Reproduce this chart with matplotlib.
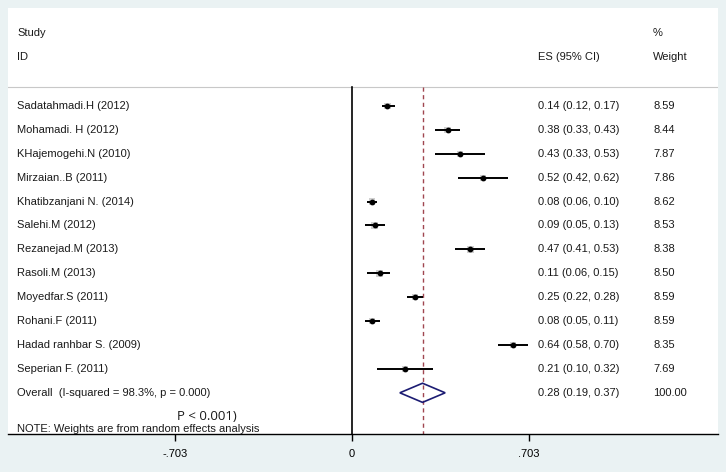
import numpy as np
import matplotlib
matplotlib.use("Agg")
import matplotlib.pyplot as plt

studies = ["Sadatahmadi.H (2012)", "Mohamadi. H (2012)", "KHajemogehi.N (2010)",
           "Mirzaian..B (2011)", "Khatibzanjani N. (2014)", "Salehi.M (2012)",
           "Rezanejad.M (2013)", "Rasoli.M (2013)", "Moyedfar.S (2011)",
           "Rohani.F (2011)", "Hadad ranhbar S. (2009)", "Seperian F. (2011)"]
es = [0.14, 0.38, 0.43, 0.52, 0.08, 0.09, 0.47, 0.11, 0.25, 0.08, 0.64, 0.21]
lo = [0.12, 0.33, 0.33, 0.42, 0.06, 0.05, 0.41, 0.06, 0.22, 0.05, 0.58, 0.10]
hi = [0.17, 0.43, 0.53, 0.62, 0.10, 0.13, 0.53, 0.15, 0.28, 0.11, 0.70, 0.32]
weights = [8.59, 8.44, 7.87, 7.86, 8.62, 8.53, 8.38, 8.50, 8.59, 8.59, 8.35, 7.69]

overall_es, overall_lo, overall_hi = 0.28, 0.19, 0.37
overall_label = "Overall  (I-squared = 98.3%, p = 0.000)"
xticks = [-0.703, 0, 0.703]
xticklabels = ["-.703", "0", ".703"]

bg = "#EAF2F3"
fig = plt.figure(figsize=(7.26, 4.72), dpi=100, facecolor=bg)
W, H = 726, 472
# white plot panel in pixels: x 8..718, y 8..434
ax = fig.add_axes([8 / W, (H - 434) / H, 710 / W, 426 / H])
ax.set_facecolor("white")

# x: 0 at pixel 352, 251.8 px per unit
ppu = 251.8
ax.set_xlim((8 - 352) / ppu, (718 - 352) / ppu)
# y: row 0 at pixel 106, 23.9 px per row
r0, rs = 106, 23.9
ax.set_ylim((434 - r0) / rs, (8 - r0) / rs)

plt.rcParams["font.family"] = "Liberation Sans"
fs = 8
tc = "#1a1a1a"
n = len(studies)
rows = np.arange(n)
head_y = (87 - r0) / rs

for s in ["top", "right", "left"]:
    ax.spines[s].set_visible(False)
ax.spines["bottom"].set_linewidth(1.0)
ax.set_yticks([])
ax.set_xticks(xticks)
ax.set_xticklabels(xticklabels, fontsize=fs, family="Liberation Sans")
ax.tick_params(axis="x", direction="out", length=5, width=1, pad=6)

# header separator
ax.axhline(head_y, color="#C8C8C8", lw=0.8)
# null line and overall line
ax.plot([0, 0], [head_y, ax.get_ylim()[0]], color="black", lw=1.2)
ax.plot([overall_es, overall_es], [head_y, ax.get_ylim()[0]], color="#A04650",
        lw=1.0, ls=(0, (3, 2.5)))

# study estimates
sizes = [(w / 8.6) ** 2 * 22 for w in weights]
ax.scatter(es, rows, s=sizes, marker="s", color="#D0D0D0", zorder=3, lw=0)
ax.hlines(rows, lo, hi, color="black", lw=1.4, zorder=4)
ax.scatter(es, rows, s=10, marker="o", color="black", zorder=5)

# diamond
ov = n
ax.fill([overall_lo, overall_es, overall_hi, overall_es],
        [ov, ov - 0.4, ov, ov + 0.4], facecolor="none", edgecolor="#1C1C73",
        lw=1.2, zorder=4)

trans = ax.get_yaxis_transform()
xs, xe, xw = (17 - 8) / 710, (538 - 8) / 710, (653 - 8) / 710
kw = dict(transform=trans, fontsize=fs, va="center", color=tc)
ax.text(xs, (33 - r0) / rs, "Study", **kw)
ax.text(xs, (57 - r0) / rs, "ID", **kw)
ax.text(xe, (57 - r0) / rs, "ES (95% CI)", **kw)
ax.text(xw, (33 - r0) / rs, "%", **kw)
ax.text(xw, (57 - r0) / rs, "Weight", **kw)

for i in range(n):
    ax.text(xs, i, studies[i], **kw)
    ax.text(xe, i, "%.2f (%.2f, %.2f)" % (es[i], lo[i], hi[i]), **kw)
    ax.text(xw, i, "%.2f" % weights[i], **kw)

ax.text(xs, ov, overall_label, **kw)
ax.text(xe, ov, "%.2f (%.2f, %.2f)" % (overall_es, overall_lo, overall_hi), **kw)
ax.text(xw, ov, "100.00", **kw)

ax.text((207 - 8) / 710, (417 - r0) / rs, "P < 0.001)", transform=trans,
        fontsize=9.5, va="center", ha="center", family="Open Sans", color=tc)
ax.text(xs, (429 - r0) / rs, "NOTE: Weights are from random effects analysis", **kw)

fig.savefig("out.png", dpi=100, facecolor=bg)
